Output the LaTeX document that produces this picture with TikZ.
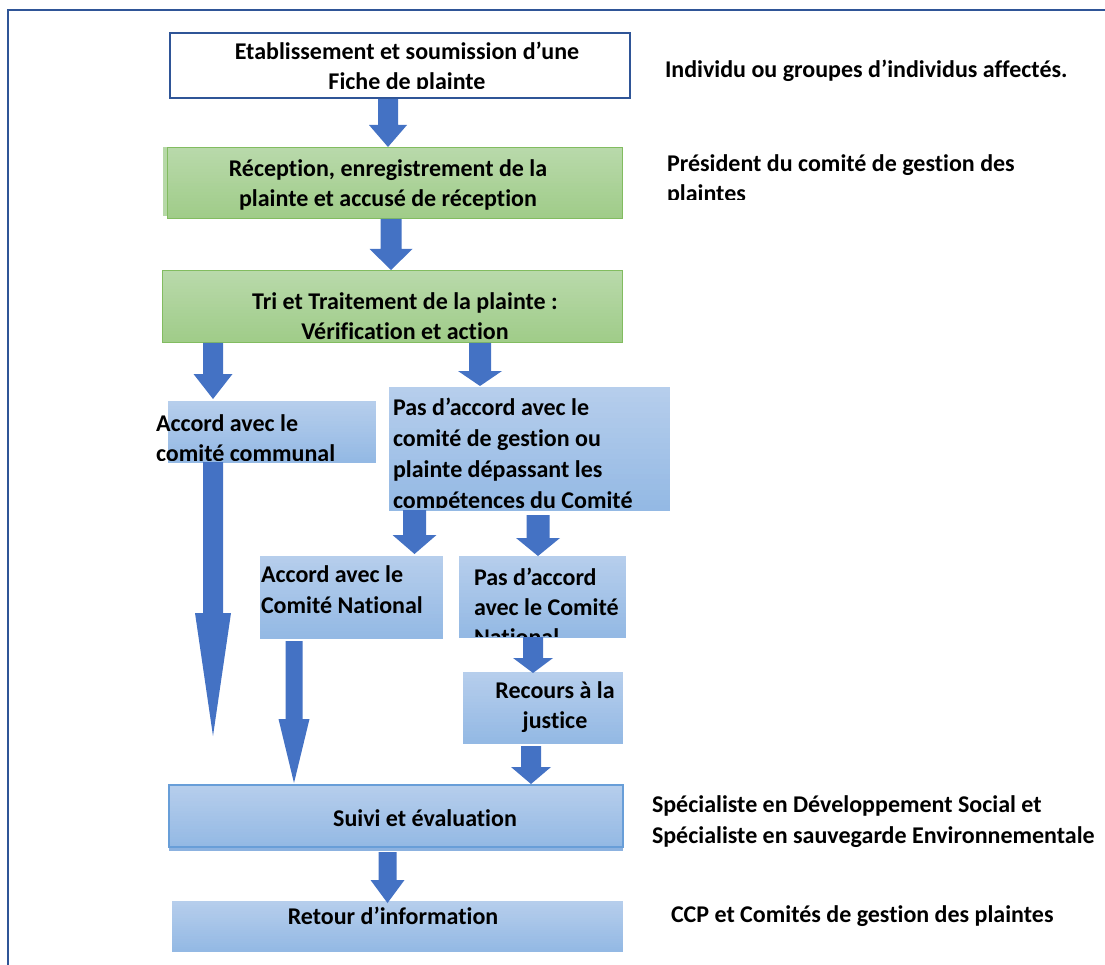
\documentclass[tikz,border=0pt]{standalone}
\usepackage{fontspec}
\setmainfont{Carlito}[Ligatures=NoCommon]
\usetikzlibrary{calc}
\definecolor{frameblue}{RGB}{47,85,151}
\definecolor{arrowblue}{RGB}{68,114,196}
\definecolor{gtop}{RGB}{184,217,170}
\definecolor{gbot}{RGB}{160,204,137}
\definecolor{gborder}{RGB}{130,188,96}
\definecolor{btop}{RGB}{182,206,236}
\definecolor{bbot}{RGB}{148,185,228}
\definecolor{bborder}{RGB}{104,158,216}
\definecolor{bshadow}{RGB}{140,178,224}
\newcommand\mybox[6]{% name, style, x1, y1, x2, y2
  \node[#2, inner sep=0pt, outer sep=0pt, anchor=north west,
        minimum width={#5pt-#3pt}, minimum height={#6pt-#4pt}] (#1) at (#3,#4) {};}
\newcommand\barrow[6]{% cx, top, headstart, tip, shaft half, head half
  \fill[arrowblue] ({#1-#5},#2) -- ({#1+#5},#2) -- ({#1+#5},#3) -- ({#1+#6},#3)
     -- (#1,#4) -- ({#1-#6},#3) -- ({#1-#5},#3) -- cycle;}
\begin{document}
\begin{tikzpicture}[x=1pt,y=-1pt,
  gradfill/.style 2 args={path picture={
    \foreach \i in {0,...,23}{
      \pgfmathsetmacro\pc{100-\i*100/23}
      \fill[#1!\pc!#2]
        ($(path picture bounding box.north west)!{\i/24}!(path picture bounding box.south west)$)
        rectangle
        ($(path picture bounding box.north east)!{(\i+1.4)/24}!(path picture bounding box.south east)$);
    }}},
  whitebox/.style={draw=frameblue, line width=2.2pt, fill=white},
  greenbox/.style={draw=gborder, line width=1pt, gradfill={gtop}{gbot}},
  bluebox/.style={draw=none, gradfill={btop}{bbot}},
  blueframed/.style={draw=bborder, line width=1.2pt, gradfill={btop}{bbot}},
  txt/.style={inner sep=0pt, outer sep=0pt, font=\fontsize{24}{30}\selectfont\bfseries},
  txtc/.style={txt, anchor=north, align=center},
  txtl/.style={txt, anchor=north west, align=left},
  wide/.style={font=\fontsize{24}{31}\selectfont\bfseries}]
\useasboundingbox (0,0) rectangle (1105,965);
% frame
\draw[frameblue, line width=2pt] (1105,10) -- (8,10) -- (8,966);

% boxes
\mybox{b1}{whitebox}{170}{33}{630}{98}
\fill[gtop!90!gbot] (163,147) rectangle (620,216);
\mybox{b2}{greenbox}{167}{148}{622}{219}
\mybox{b3}{greenbox}{162}{271}{622}{343}
\mybox{b4}{bluebox}{168}{401}{376}{462}
\mybox{b5}{bluebox}{389}{387}{670}{510}
\mybox{b6}{bluebox}{260}{556}{443}{638}
\mybox{b7}{bluebox}{459}{556}{626}{637}
\mybox{b8}{bluebox}{463}{672}{623}{743}
\fill[bshadow] (169,790) rectangle (623,851);
\mybox{b9}{blueframed}{169}{785}{623}{847}
\mybox{b10}{bluebox}{172}{901}{623}{951}

% arrows
\barrow{388}{99}{125}{147}{10}{19}
\barrow{391}{219}{249}{270}{10.5}{21.5}
\barrow{213}{343}{374}{399}{10}{19.5}
\barrow{480}{343}{371}{386}{11}{22}
\barrow{213}{462}{613}{736}{10}{18}
\barrow{414.5}{510}{535}{554}{11.5}{22}
\barrow{538}{515}{538}{556}{11.5}{22}
\barrow{294}{641}{719}{783}{8.5}{15.5}
\barrow{533}{637}{658}{673}{10}{20}
\barrow{531}{746}{767}{784}{10}{20}
\barrow{387.5}{852}{880}{903}{9}{17}

% texts
\begin{scope}
  \clip (160,30) rectangle (640,88.5);
  \node[txtc] (t1) at (407,40) {\rule{0pt}{20pt}Etablissement et soumission d’une\\Fiche de plainte};
\end{scope}
\node[txtc] (t2) at (388,157) {\rule{0pt}{20pt}Réception, enregistrement de la\\plainte et accusé de réception};
\node[txtc] (t3) at (405,290) {\rule{0pt}{20pt}Tri et Traitement de la plainte :\\Vérification et action};
\begin{scope}
  \clip (140,395) rectangle (400,460);
  \node[txtl] (t4) at (156,411) {\rule{0pt}{20pt}Accord avec le\\comité communal};
\end{scope}
\begin{scope}
  \clip (380,380) rectangle (680,507.5);
  \node[txtl, wide] (t5) at (393,395) {\rule{0pt}{20pt}Pas d’accord avec le\\comité de gestion ou\\plainte dépassant les\\compétences du Comité};
\end{scope}
\node[txtl, wide] (t6) at (261,562) {\rule{0pt}{20pt}Accord avec le\\Comité National};
\begin{scope}
  \clip (450,550) rectangle (640,636);
  \node[txtl] (t7) at (474,565) {\rule{0pt}{20pt}Pas d’accord\\avec le Comité\\National};
\end{scope}
\node[txtc] (t8) at (555,678) {\rule{0pt}{20pt}Recours à la\\justice};
\node[txtc] (t9) at (425,806) {\rule{0pt}{20pt}Suivi et évaluation};
\node[txtc] (t10) at (393,904) {\rule{0pt}{20pt}Retour d’information};

% right-hand labels
\node[txtl] (r1) at (665,58) {\rule{0pt}{20pt}Individu ou groupes d’individus affectés.};
\begin{scope}
  \clip (650,140) rectangle (1100,200);
  \node[txtl] (r2) at (667,152) {\rule{0pt}{20pt}Président du comité de gestion des\\plaintes};
\end{scope}
\node[txtl, wide] (r3) at (652,792) {\rule{0pt}{20pt}Spécialiste en Développement Social et\\Spécialiste en sauvegarde Environnementale};
\node[txtl] (r4) at (671,902) {\rule{0pt}{20pt}CCP et Comités de gestion des plaintes};
\end{tikzpicture}
\end{document}
